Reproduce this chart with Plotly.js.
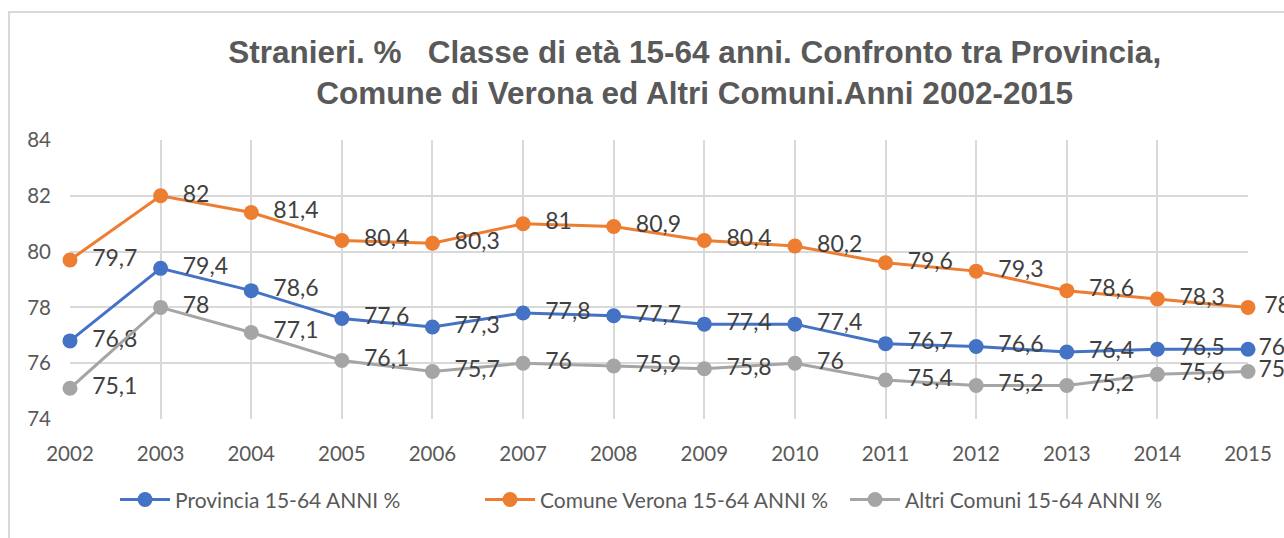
<!DOCTYPE html>
<html>
<head>
<meta charset="utf-8">
<script src="https://cdn.plot.ly/plotly-3.0.1.min.js"></script>
<style>
  html, body { margin: 0; padding: 0; background: #fff; overflow: hidden; }
  #frame { position: absolute; left: 8px; top: 11px; width: 1400px; height: 700px; border: 2px solid #d9d9d9; box-sizing: border-box; }
  #chart { position: absolute; left: 0; top: 0; width: 1284px; height: 538px; }
</style>
</head>
<body>
<div id="frame"></div>
<div id="chart"></div>
<script>
const years = [2002, 2003, 2004, 2005, 2006, 2007, 2008, 2009, 2010, 2011, 2012, 2013, 2014, 2015];
const provincia = [76.8, 79.4, 78.6, 77.6, 77.3, 77.8, 77.7, 77.4, 77.4, 76.7, 76.6, 76.4, 76.5, 76.5];
const comune = [79.7, 82, 81.4, 80.4, 80.3, 81, 80.9, 80.4, 80.2, 79.6, 79.3, 78.6, 78.3, 78];
const altri = [75.1, 78, 77.1, 76.1, 75.7, 76, 75.9, 75.8, 76, 75.4, 75.2, 75.2, 75.6, 75.7];
const seriesNames = ['Provincia 15-64 ANNI %', 'Comune Verona 15-64 ANNI %', 'Altri Comuni 15-64 ANNI %'];
const yTicks = [74, 76, 78, 80, 82, 84];

const FONT = 'Lato, "Open Sans", sans-serif';

// labels sit right of each point; the last label is pulled closer to its point (as in the original)
function labels(vals, lastPad) {
  return vals.map((v, i) => {
    const s = String(v).replace('.', ',');
    return (i === vals.length - 1) ? lastPad + s : '\u00a0\u00a0' + s;
  });
}

function trace(name, vals, color, lastPad) {
  return {
    x: years, y: vals, name: name, type: 'scatter', mode: 'lines+markers+text',
    line: { color: color, width: 3 },
    marker: { color: color, size: 15 },
    text: labels(vals, lastPad), textposition: 'middle right',
    textfont: { family: FONT, size: 23, color: '#404040' },
    cliponaxis: false
  };
}

const data = [
  trace(seriesNames[0], provincia, '#4472C4', ''),
  trace(seriesNames[1], comune, '#ED7D31', '\u00a0'),
  trace(seriesNames[2], altri, '#A5A5A5', '')
];

const layout = {
  width: 1284, height: 538,
  margin: { l: 70, r: 36, t: 140, b: 119 },
  paper_bgcolor: 'rgba(0,0,0,0)',
  plot_bgcolor: 'rgba(0,0,0,0)',
  title: {
    text: '<b>Stranieri. %   Classe di età 15-64 anni. Confronto tra Provincia,<br>Comune di Verona ed Altri Comuni.Anni 2002-2015</b>',
    font: { family: '"Liberation Sans", Arial, sans-serif', size: 31.5, color: '#595959' },
    x: 0.541, xref: 'container', xanchor: 'center',
    y: 1 - 63 / 538, yref: 'container', yanchor: 'middle'
  },
  xaxis: {
    range: [2002, 2015], tickvals: years, ticktext: years.map(String),
    showgrid: true, gridcolor: '#d9d9d9', gridwidth: 2,
    zeroline: false, showline: false, ticks: '',
    tickfont: { family: FONT, size: 20.5, color: '#595959' },
    ticklabelstandoff: 20
  },
  yaxis: {
    range: [74, 84], tickvals: yTicks,
    showgrid: true, gridcolor: '#d9d9d9', gridwidth: 2,
    zeroline: false, showline: false, ticks: '',
    tickfont: { family: FONT, size: 20.5, color: '#595959' },
    ticklabelstandoff: 18
  },
  showlegend: true,
  legend: {
    orientation: 'h', x: 0.503, xanchor: 'center', y: -0.29, yanchor: 'middle',
    font: { family: FONT, size: 21, color: '#595959' },
    itemwidth: 50, tracegroupgap: 0,
    entrywidth: 300, entrywidthmode: 'pixels'
  }
};

Plotly.newPlot('chart', data, layout, { displayModeBar: false, staticPlot: true });
</script>
</body>
</html>
